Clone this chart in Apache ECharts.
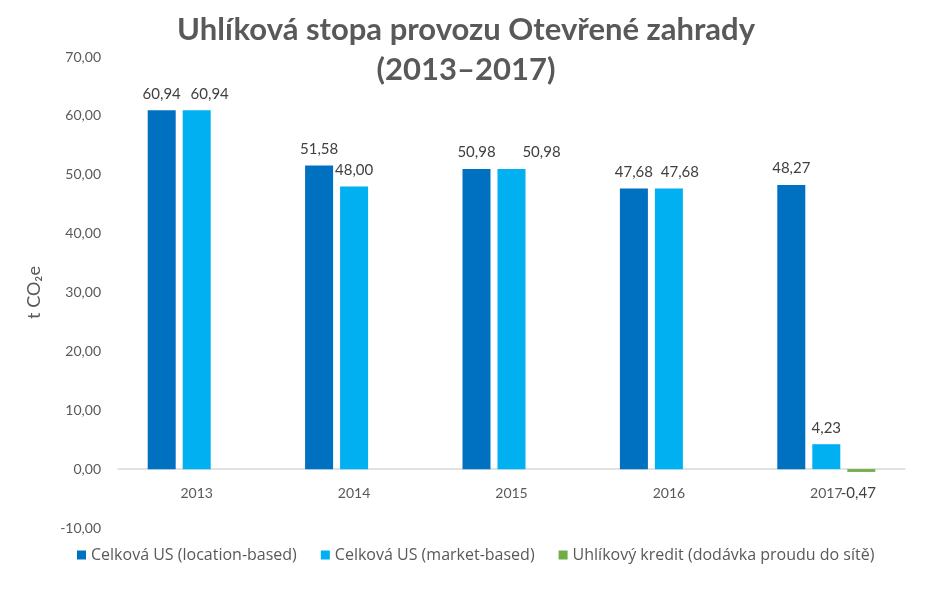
<!DOCTYPE html>
<html>
<head>
<meta charset="utf-8">
<script src="https://cdn.jsdelivr.net/npm/echarts@6/dist/echarts.min.js"></script>
<style>
  html, body { margin: 0; padding: 0; background: #fff; }
  #chart { width: 932px; height: 592px; }
</style>
</head>
<body>
<div id="chart"></div>
<script>
var years = ['2013', '2014', '2015', '2016', '2017'];
var locationBased = [60.94, 51.58, 50.98, 47.68, 48.27];
var marketBased = [60.94, 48.00, 50.98, 47.68, 4.23];
var credit = [null, null, null, null, -0.47];
var seriesNames = [
    'Celková US (location-based)',
    'Celková US (market-based)',
    'Uhlíkový kredit (dodávka proudu do sítě)'
];

function fmt(v) {
    return v.toFixed(2).replace('.', ',');
}

// Excel nudged some market-based labels sideways so they don't collide
var marketLabelShift = [13, 0, 30, 11, 0];

var mycharts = echarts.init(document.getElementById('chart'));
var font = 'Lato, "Noto Sans", sans-serif';

var valueLabel = {
    show: true,
    position: 'top',
    distance: 9,
    color: '#404040',
    fontSize: 15,
    formatter: function (p) { return fmt(p.value); }
};

mycharts.setOption({
    textStyle: { fontFamily: font },
    title: {
        text: 'Uhlíková stopa provozu Otevřené zahrady\n(2013–2017)',
        left: 'center',
        top: 5,
        textStyle: {
            fontFamily: font,
            fontSize: 31,
            fontWeight: 'bold',
            color: '#595959',
            lineHeight: 40
        }
    },
    legend: {
        bottom: 24,
        left: 72,
        itemWidth: 9,
        itemHeight: 9,
        itemGap: 24,
        icon: 'rect',
        textStyle: { fontFamily: '"Open Sans", sans-serif', fontSize: 16, color: '#595959' },
        data: seriesNames
    },
    grid: { left: 118, right: 27, top: 57, bottom: 64 },
    xAxis: {
        type: 'category',
        data: years,
        offset: -59,
        axisLine: { onZero: false, lineStyle: { color: '#D9D9D9', width: 1.5 } },
        axisTick: { show: false },
        axisLabel: { color: '#595959', fontSize: 14, margin: 17 }
    },
    yAxis: {
        type: 'value',
        min: -10,
        max: 70,
        interval: 10,
        name: 't CO₂e',
        nameLocation: 'middle',
        nameGap: 75,
        nameRotate: 90,
        nameTextStyle: { color: '#595959', fontSize: 18, fontFamily: font },
        axisLine: { show: false },
        axisTick: { show: false },
        splitLine: { show: false },
        axisLabel: {
            color: '#595959',
            fontSize: 14,
            margin: 17,
            formatter: function (v) { return fmt(v); }
        }
    },
    series: [
        {
            name: seriesNames[0],
            type: 'bar',
            data: locationBased,
            barWidth: 28,
            barGap: '25%',
            barCategoryGap: '37%',
            itemStyle: { color: '#0070C0' },
            label: valueLabel
        },
        {
            name: seriesNames[1],
            type: 'bar',
            data: marketBased.map(function (v, i) {
                return { value: v, label: { offset: [marketLabelShift[i], 0] } };
            }),
            barWidth: 28,
            barGap: '25%',
            itemStyle: { color: '#00B0F0' },
            label: valueLabel
        },
        {
            name: seriesNames[2],
            type: 'bar',
            data: credit,
            barWidth: 28,
            barGap: '25%',
            itemStyle: { color: '#70AD47' },
            label: {
                show: true,
                position: 'bottom',
                distance: 14,
                offset: [-3, 0],
                color: '#404040',
                fontSize: 15,
                formatter: function (p) { return fmt(p.value); }
            }
        }
    ]
});
</script>
</body>
</html>
